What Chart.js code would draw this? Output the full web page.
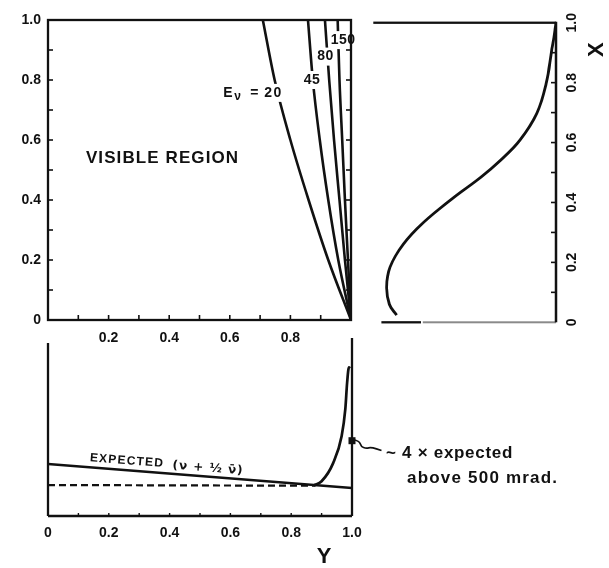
<!DOCTYPE html>
<html>
<head>
<meta charset="utf-8">
<script src="https://cdn.jsdelivr.net/npm/chart.js@4.4.1/dist/chart.umd.min.js"></script>
<style>
  html, body { margin: 0; padding: 0; background: #fff; }
  #wrap { position: relative; width: 609px; height: 568px; overflow: hidden; background: #fff; }
  canvas { position: absolute; }
  #main { left: 0; top: 0; }
  #bottom { left: 0; top: 335px; }
  /* the x-distribution panel is drawn as a normal chart and turned on its side */
  #side { left: 360px; top: 335px; transform-origin: 0 0; transform: rotate(-90deg); }
</style>
</head>
<body>
<div id="wrap">
  <canvas id="main" width="360" height="350"></canvas>
  <canvas id="side" width="330" height="249"></canvas>
  <canvas id="bottom" width="609" height="233"></canvas>
</div>
<script>
// ---- values ----

// upper panel: boundary of the visible region, x as a function of y, per E_nu
const energies = ["20", "45", "80", "150"];
const bandY = [1.0, 0.8, 0.6, 0.4, 0.2, 0];
const band20 = [0.709, 0.748, 0.800, 0.860, 0.925, 1.0];
const band45 = [0.858, 0.874, 0.897, 0.925, 0.958, 1.0];
const band80 = [0.914, 0.928, 0.944, 0.962, 0.980, 1.0];
const band150 = [0.956, 0.962, 0.971, 0.980, 0.990, 1.0];
const mainXTicks = [0.2, 0.4, 0.6, 0.8];
const mainXLabels = ["0.2", "0.4", "0.6", "0.8"];
const mainYTicks = [0, 0.2, 0.4, 0.6, 0.8, 1.0];
const mainYLabels = ["0", "0.2", "0.4", "0.6", "0.8", "1.0"];

// side panel: x distribution (arbitrary units)
const sideX = [0.024, 0.06, 0.118, 0.184, 0.261, 0.333, 0.415, 0.485, 0.54, 0.609, 0.697, 0.797, 0.907, 0.973, 1.0];
const sideDist = [0.885, 0.926, 0.941, 0.922, 0.848, 0.737, 0.571, 0.416, 0.31, 0.199, 0.107, 0.055, 0.024, 0.006, 0.0];
const sideTicks = [0, 0.2, 0.4, 0.6, 0.8, 1.0];
const sideLabels = ["0", "0.2", "0.4", "0.6", "0.8", "1.0"];

// lower panel: y distribution (arbitrary units)
const expectedY = [0, 1.0];
const expectedVal = [2.92, 1.57];
const flatY = [0, 0.88];
const flatVal = [1.74, 1.70];
const observedY = [0.875, 0.90, 0.938, 0.966, 0.978, 0.984, 0.990, 0.994];
const observedVal = [1.72, 1.95, 2.97, 4.5, 6.0, 7.5, 8.35, 8.3];
const pointerY = [1.004, 1.024, 1.030, 1.046, 1.064, 1.097];
const pointerVal = [4.30, 4.22, 3.90, 3.80, 3.86, 3.68];
const markY = [1.0];
const markVal = [4.23];
const lowTicks = [0, 0.2, 0.4, 0.6, 0.8, 1.0];
const lowLabels = ["0", "0.2", "0.4", "0.6", "0.8", "1.0"];

// ---- drawing ----
const INK = "#111";
const FONT = "'Liberation Sans', Arial, sans-serif";
Chart.defaults.font.family = FONT;
Chart.defaults.color = INK;

function pts(xs, ys) {
  return xs.map((x, i) => ({ x: x, y: ys[i] }));
}

function stroke(ctx, x1, y1, x2, y2, w, color) {
  ctx.save();
  ctx.strokeStyle = color || INK;
  ctx.lineWidth = w;
  ctx.beginPath();
  ctx.moveTo(x1, y1);
  ctx.lineTo(x2, y2);
  ctx.stroke();
  ctx.restore();
}

// text with a white patch behind it, so the curve is broken under the label
function patchText(ctx, text, cx, cy, size) {
  ctx.save();
  ctx.font = "bold " + size + "px " + FONT;
  ctx.letterSpacing = "0.5px";
  const w = ctx.measureText(text).width;
  ctx.fillStyle = "#fff";
  ctx.fillRect(cx - w / 2 - 1, cy - size * 0.5 - 2, w + 2, size + 4);
  ctx.fillStyle = INK;
  ctx.textAlign = "center";
  ctx.textBaseline = "middle";
  ctx.fillText(text, cx, cy);
  ctx.restore();
}

const tickFont = { size: 14, weight: "bold" };

const mainDecor = {
  id: "mainDecor",
  afterDatasetsDraw(chart) {
    const { ctx, chartArea: a, scales: { x, y } } = chart;

    // curve labels
    patchText(ctx, energies[1], x.getPixelForValue(0.871), y.getPixelForValue(0.80), 14);
    patchText(ctx, energies[2], x.getPixelForValue(0.916), y.getPixelForValue(0.878), 14);
    patchText(ctx, energies[3], x.getPixelForValue(0.974), y.getPixelForValue(0.933), 14);

    // E_nu = 20
    ctx.save();
    const ex = x.getPixelForValue(0.578), ey = y.getPixelForValue(0.757);
    ctx.fillStyle = "#fff";
    ctx.fillRect(ex + 38, ey - 9, 28, 18);
    ctx.fillStyle = INK;
    ctx.textBaseline = "middle";
    ctx.font = "bold 14px " + FONT;
    ctx.fillText("E", ex, ey);
    ctx.font = "bold 12px " + FONT;
    ctx.fillText("\u03bd", ex + 11, ey + 4);
    ctx.font = "bold 14px " + FONT;
    ctx.fillText("=", ex + 27, ey);
    ctx.letterSpacing = "1.5px";
    ctx.fillText(energies[0], ex + 41, ey);
    ctx.restore();

    // VISIBLE REGION
    ctx.save();
    ctx.font = "bold 17px " + FONT;
    ctx.letterSpacing = "1.1px";
    ctx.textBaseline = "middle";
    ctx.fillStyle = INK;
    ctx.fillText("VISIBLE REGION", x.getPixelForValue(0.125), y.getPixelForValue(0.54));
    ctx.restore();

    // frame and inward ticks
    ctx.save();
    ctx.strokeStyle = INK;
    ctx.lineWidth = 2.3;
    ctx.strokeRect(a.left, a.top, a.right - a.left, a.bottom - a.top);
    ctx.restore();
    for (let i = 1; i < 10; i++) {
      const px = x.getPixelForValue(i / 10);
      const py = y.getPixelForValue(i / 10);
      stroke(ctx, px, a.bottom, px, a.bottom - 5, 1.6);
      stroke(ctx, a.left, py, a.left + 5, py, 1.6);
      stroke(ctx, a.right, py, a.right - 5, py, 1.6);
    }
  }
};

new Chart(document.getElementById("main"), {
  type: "scatter",
  data: {
    datasets: [band20, band45, band80, band150].map((xs) => ({
      data: pts(xs, bandY),
      showLine: true,
      borderColor: INK,
      borderWidth: 2.6,
      pointRadius: 0,
      cubicInterpolationMode: "monotone"
    }))
  },
  options: {
    responsive: false,
    animation: false,
    layout: { padding: { top: 20, right: 9, left: 0, bottom: 0 } },
    plugins: { legend: { display: false }, tooltip: { enabled: false } },
    scales: {
      x: {
        type: "linear", min: 0, max: 1,
        grid: { display: false, drawTicks: false },
        border: { display: false },
        afterBuildTicks: (s) => { s.ticks = mainXTicks.map((v) => ({ value: v })); },
        afterFit: (s) => { s.height = 30; },
        ticks: { callback: (v, i) => mainXLabels[i], padding: 10, maxRotation: 0, autoSkip: false, font: tickFont }
      },
      y: {
        type: "linear", min: 0, max: 1,
        grid: { display: false, drawTicks: false },
        border: { display: false },
        afterBuildTicks: (s) => { s.ticks = mainYTicks.map((v) => ({ value: v })); },
        afterFit: (s) => { s.width = 48; },
        ticks: { callback: (v, i) => mainYLabels[i], padding: 7, autoSkip: false, font: tickFont }
      }
    }
  },
  plugins: [mainDecor]
});

// side panel (drawn unrotated: X along the bottom, distribution upwards)
const sideDecor = {
  id: "sideDecor",
  afterDatasetsDraw(chart) {
    const { ctx, chartArea: a, scales: { x, y } } = chart;
    // X = 1 edge
    stroke(ctx, a.right, y.getPixelForValue(1.015), a.right, a.bottom, 2.3);
    // X = 0 edge: short dark piece then a faint one
    stroke(ctx, a.left, y.getPixelForValue(0.97), a.left, y.getPixelForValue(0.75), 2.3);
    stroke(ctx, a.left, y.getPixelForValue(0.74), a.left, a.bottom, 2, "#8a8a8a");
    // zero line of the distribution
    stroke(ctx, a.left, a.bottom, a.right + 1, a.bottom, 2.3);
    for (let i = 1; i < 10; i++) {
      const px = x.getPixelForValue(i / 10);
      stroke(ctx, px, a.bottom, px, a.bottom - 5, 1.6);
    }
    ctx.save();
    ctx.font = "bold 22px " + FONT;
    ctx.textAlign = "center";
    ctx.textBaseline = "middle";
    ctx.fillStyle = INK;
    ctx.fillText("X", x.getPixelForValue(0.91), a.bottom + 41);
    ctx.restore();
  }
};

new Chart(document.getElementById("side"), {
  type: "scatter",
  data: {
    datasets: [{
      data: pts(sideX, sideDist),
      showLine: true,
      borderColor: INK,
      borderWidth: 2.8,
      pointRadius: 0,
      tension: 0.4
    }]
  },
  options: {
    responsive: false,
    animation: false,
    layout: { padding: { top: 16, right: 15, left: 12.7, bottom: 0 } },
    plugins: { legend: { display: false }, tooltip: { enabled: false } },
    scales: {
      x: {
        type: "linear", min: 0, max: 1,
        grid: { display: false, drawTicks: false },
        border: { display: false },
        afterBuildTicks: (s) => { s.ticks = sideTicks.map((v) => ({ value: v })); },
        afterFit: (s) => { s.height = 53; },
        ticks: { callback: (v, i) => sideLabels[i], padding: 8, maxRotation: 0, autoSkip: false, font: tickFont }
      },
      y: { type: "linear", min: 0, max: 1, display: false }
    }
  },
  plugins: [sideDecor]
});

// lower panel
const lowDecor = {
  id: "lowDecor",
  afterDatasetsDraw(chart) {
    const { ctx, chartArea: a, scales: { x, y } } = chart;
    stroke(ctx, a.left, y.getPixelForValue(9.72), a.left, a.bottom, 2.3);
    stroke(ctx, a.right, a.top, a.right, a.bottom, 2.3);
    stroke(ctx, a.left, a.bottom, a.right, a.bottom, 2.3);
    for (let i = 1; i < 10; i++) {
      const px = x.getPixelForValue(i / 10);
      stroke(ctx, px, a.bottom, px, a.bottom - 3, 1.4);
    }

    // pointer squiggle from the marker to the note (outside the plot range)
    const p = pointerY.map((v, i) => [x.getPixelForValue(v), y.getPixelForValue(pointerVal[i])]);
    ctx.save();
    ctx.strokeStyle = INK;
    ctx.lineWidth = 1.7;
    ctx.beginPath();
    ctx.moveTo(p[0][0], p[0][1]);
    for (let i = 1; i < p.length - 1; i++) {
      const mx = (p[i][0] + p[i + 1][0]) / 2, my = (p[i][1] + p[i + 1][1]) / 2;
      ctx.quadraticCurveTo(p[i][0], p[i][1], mx, my);
    }
    ctx.lineTo(p[p.length - 1][0], p[p.length - 1][1]);
    ctx.stroke();
    // marker on the axis
    const mx = x.getPixelForValue(markY[0]), my = y.getPixelForValue(markVal[0]);
    ctx.fillStyle = INK;
    ctx.fillRect(mx - 3.5, my - 3.5, 7, 7);
    ctx.restore();

    ctx.save();
    ctx.fillStyle = INK;
    ctx.textBaseline = "middle";
    // label along the expected line
    ctx.translate(x.getPixelForValue(0.138), y.getPixelForValue(3.26));
    ctx.rotate(0.078);
    ctx.font = "bold 12px " + FONT;
    ctx.letterSpacing = "1.2px";
    ctx.fillText("EXPECTED", 0, 0);
    const w = ctx.measureText("EXPECTED ").width;
    ctx.letterSpacing = "1px";
    ctx.font = "bold 12px 'DejaVu Sans', sans-serif";
    ctx.fillText("(\u03bd + \u00bd \u03bd\u0304)", w + 4, 1);
    ctx.restore();

    ctx.save();
    ctx.fillStyle = INK;
    ctx.textBaseline = "middle";
    ctx.font = "bold 17px " + FONT;
    ctx.letterSpacing = "0.7px";
    ctx.fillText("~ 4 \u00d7 expected", x.getPixelForValue(1.112), y.getPixelForValue(3.54));
    ctx.letterSpacing = "1.2px";
    ctx.fillText("above 500 mrad.", x.getPixelForValue(1.181), y.getPixelForValue(2.13));
    ctx.font = "bold 22px " + FONT;
    ctx.letterSpacing = "0px";
    ctx.textAlign = "center";
    ctx.fillText("Y", x.getPixelForValue(0.908), a.bottom + 41);
    ctx.restore();
  }
};

new Chart(document.getElementById("bottom"), {
  type: "scatter",
  data: {
    datasets: [
      { data: pts(expectedY, expectedVal), showLine: true, borderColor: INK, borderWidth: 2.5, pointRadius: 0 },
      { data: pts(flatY, flatVal), showLine: true, borderColor: INK, borderWidth: 2.2, borderDash: [7, 4], pointRadius: 0 },
      { data: pts(observedY, observedVal), showLine: true, borderColor: INK, borderWidth: 2.7, pointRadius: 0, cubicInterpolationMode: "monotone" }
    ]
  },
  options: {
    responsive: false,
    animation: false,
    layout: { padding: { top: 3, right: 257, left: 48, bottom: 0 } },
    plugins: { legend: { display: false }, tooltip: { enabled: false } },
    scales: {
      x: {
        type: "linear", min: 0, max: 1,
        grid: { display: false, drawTicks: false },
        border: { display: false },
        afterBuildTicks: (s) => { s.ticks = lowTicks.map((v) => ({ value: v })); },
        afterFit: (s) => { s.height = 52; },
        ticks: { callback: (v, i) => lowLabels[i], padding: 9, maxRotation: 0, autoSkip: false, font: tickFont }
      },
      y: { type: "linear", min: 0, max: 10, display: false }
    }
  },
  plugins: [lowDecor]
});
</script>
</body>
</html>
